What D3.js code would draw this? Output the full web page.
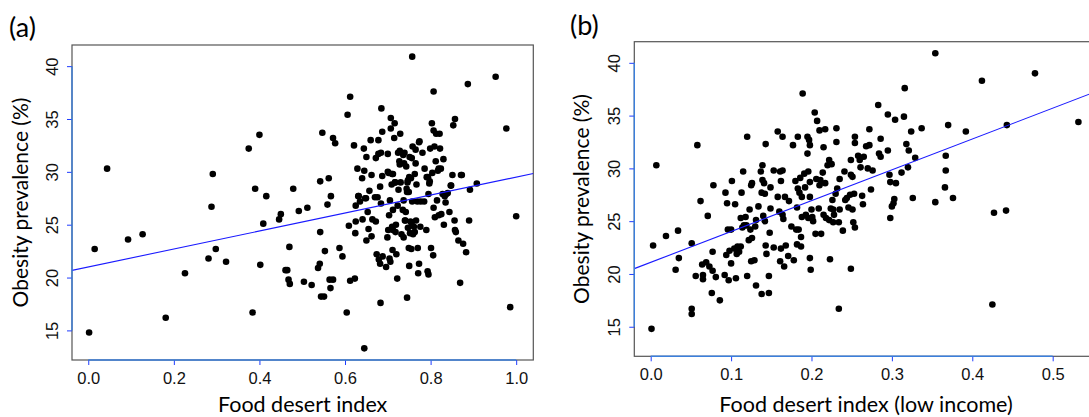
<!DOCTYPE html>
<html>
<head>
<meta charset="utf-8">
<script src="https://cdn.jsdelivr.net/npm/d3@7/dist/d3.min.js"></script>
<style>
body { margin: 0; background: #fff; }
</style>
</head>
<body>
<svg></svg>
<script>
let width = 1089
let height = 417

// [food desert index, obesity prevalence %] per county, panel (a)
let pointsA = [
  [0.002,14.8],[0.015,22.7],[0.044,30.3],[0.093,23.6],[0.127,24.1],[0.181,16.2],[0.226,20.4],[0.281,21.8],[0.288,26.7],[0.291,29.8],
  [0.298,22.7],[0.322,21.5],[0.375,32.2],[0.384,16.7],[0.390,28.4],[0.400,33.5],[0.402,21.2],[0.409,25.1],[0.416,27.7],[0.446,25.5],
  [0.450,26.0],[0.461,20.7],[0.465,20.7],[0.468,19.8],[0.470,22.9],[0.471,19.4],[0.479,28.4],[0.492,26.3],[0.504,19.6],[0.512,26.6],
  [0.522,19.3],[0.537,20.9],[0.541,21.3],[0.542,29.1],[0.542,24.3],[0.544,18.2],[0.547,33.7],[0.551,18.2],[0.553,22.5],[0.559,26.9],
  [0.562,29.4],[0.564,19.8],[0.566,19.0],[0.567,27.7],[0.572,33.2],[0.572,19.8],[0.577,32.7],[0.587,22.8],[0.594,22.0],[0.604,16.7],
  [0.606,35.4],[0.609,24.9],[0.612,37.1],[0.612,19.7],[0.621,32.5],[0.623,19.9],[0.625,25.3],[0.624,24.2],[0.625,26.8],[0.629,30.3],
  [0.632,27.7],[0.635,27.2],[0.640,29.4],[0.644,32.2],[0.645,30.1],[0.641,25.5],[0.645,13.3],[0.650,31.4],[0.649,27.5],[0.650,23.5],
  [0.653,26.2],[0.655,24.6],[0.657,28.2],[0.660,33.0],[0.662,29.7],[0.662,23.9],[0.664,25.5],[0.670,27.6],[0.672,31.3],[0.672,25.3],
  [0.674,22.2],[0.676,27.6],[0.678,33.0],[0.679,21.7],[0.682,28.6],[0.682,21.3],[0.683,17.6],[0.684,27.0],[0.684,31.8],[0.685,36.0],
  [0.687,33.8],[0.687,29.6],[0.688,22.0],[0.696,21.0],[0.699,23.8],[0.700,31.7],[0.700,30.0],[0.701,24.5],[0.703,25.9],[0.704,21.8],
  [0.705,27.3],[0.706,21.5],[0.707,34.1],[0.707,35.1],[0.709,28.8],[0.710,24.8],[0.711,22.6],[0.712,29.8],[0.712,26.4],[0.715,33.2],
  [0.716,34.6],[0.717,29.0],[0.718,24.3],[0.719,25.0],[0.720,22.2],[0.722,19.9],[0.723,26.8],[0.725,28.3],[0.727,31.0],[0.728,32.0],
  [0.729,33.6],[0.730,29.0],[0.732,24.1],[0.735,26.4],[0.737,23.8],[0.737,27.3],[0.738,30.8],[0.739,31.8],[0.741,25.4],[0.742,26.2],
  [0.743,30.5],[0.745,18.1],[0.745,28.1],[0.746,29.0],[0.747,24.7],[0.749,22.8],[0.750,21.1],[0.751,31.4],[0.753,25.3],[0.754,29.4],
  [0.755,22.7],[0.757,27.2],[0.757,40.9],[0.758,32.4],[0.759,24.1],[0.761,24.8],[0.763,29.8],[0.765,30.8],[0.766,25.4],[0.767,28.8],
  [0.769,27.2],[0.770,22.8],[0.771,20.4],[0.773,21.3],[0.774,32.9],[0.776,24.8],[0.777,27.2],[0.781,31.8],[0.785,27.2],[0.786,30.3],
  [0.790,24.5],[0.791,29.5],[0.793,20.6],[0.795,27.9],[0.795,20.3],[0.797,28.9],[0.799,32.2],[0.801,22.8],[0.803,34.6],[0.804,29.9],
  [0.806,22.1],[0.807,26.6],[0.807,37.6],[0.807,33.9],[0.809,32.4],[0.810,25.7],[0.812,31.0],[0.813,33.6],[0.815,27.3],[0.817,30.1],
  [0.819,25.9],[0.821,33.6],[0.822,32.2],[0.824,30.3],[0.825,26.0],[0.828,27.9],[0.830,31.2],[0.831,25.0],[0.833,27.7],[0.835,27.1],
  [0.840,28.0],[0.844,26.2],[0.848,28.7],[0.851,29.7],[0.853,34.4],[0.856,25.4],[0.857,35.0],[0.857,24.5],[0.859,24.3],[0.865,23.5],
  [0.869,19.5],[0.873,29.7],[0.876,23.2],[0.883,22.4],[0.887,38.3],[0.890,25.4],[0.892,28.3],[0.908,28.9],[0.952,39.0],[0.977,34.1],
  [0.986,17.2],[1.000,25.8],
  [0.712,24.5],[0.752,24.2],[0.763,24.3],[0.756,25.0],[0.740,25.4],[0.678,31.7],[0.724,31.8],[0.736,31.6],[0.765,32.1],[0.773,32.8],
  [0.728,30.7],[0.756,31.3],[0.702,29.9],[0.710,29.8],[0.717,29.0],[0.750,29.5],[0.747,29.2],[0.794,29.5],[0.798,29.1],[0.819,30.3],
  [0.871,29.7],[0.847,28.7],[0.631,27.7],[0.647,27.5],[0.744,28.4],[0.749,28.1],[0.837,27.9]
]

// [food desert index (low income), obesity prevalence %], panel (b)
let pointsB = [
  [0.001,14.8],[0.003,22.7],[0.007,30.3],[0.019,23.6],[0.031,20.4],[0.034,24.1],[0.035,21.5],[0.051,22.9],[0.051,16.7],[0.051,16.2],
  [0.056,19.8],[0.058,32.2],[0.062,26.9],[0.064,20.9],[0.065,19.9],[0.065,19.5],[0.069,21.1],[0.071,25.5],[0.073,20.7],[0.076,18.2],
  [0.077,20.3],[0.077,22.1],[0.078,28.4],[0.081,19.7],[0.086,17.5],[0.092,19.9],[0.093,27.7],[0.094,21.8],[0.095,26.7],[0.096,24.2],
  [0.097,19.4],[0.098,22.2],[0.100,21.0],[0.100,24.2],[0.101,28.8],[0.104,22.4],[0.105,26.6],[0.106,19.6],[0.107,21.9],[0.108,22.6],
  [0.110,22.1],[0.112,25.3],[0.112,22.6],[0.113,27.7],[0.114,24.4],[0.115,29.7],[0.116,24.6],[0.118,25.4],[0.119,24.6],[0.120,33.0],
  [0.120,19.8],[0.122,23.2],[0.123,26.1],[0.124,24.2],[0.125,21.2],[0.125,28.4],[0.126,28.6],[0.126,23.4],[0.129,21.3],[0.130,24.5],
  [0.131,18.9],[0.131,25.1],[0.134,26.4],[0.137,29.7],[0.138,18.1],[0.138,27.7],[0.139,30.3],[0.139,28.9],[0.140,25.5],[0.141,28.6],
  [0.142,27.6],[0.142,25.0],[0.143,32.3],[0.143,22.7],[0.144,21.9],[0.147,18.2],[0.147,19.8],[0.148,23.9],[0.149,26.2],[0.149,28.2],
  [0.153,29.8],[0.153,22.5],[0.158,33.5],[0.158,27.3],[0.160,25.9],[0.161,29.7],[0.161,21.2],[0.162,22.4],[0.162,28.8],[0.164,25.6],
  [0.164,29.8],[0.164,33.0],[0.165,25.2],[0.166,20.7],[0.167,27.3],[0.168,22.7],[0.171,21.7],[0.172,26.9],[0.175,24.5],[0.177,32.2],
  [0.178,21.3],[0.180,28.8],[0.181,24.2],[0.182,26.3],[0.182,22.8],[0.183,33.0],[0.183,28.1],[0.184,24.2],[0.185,27.7],[0.186,29.1],
  [0.187,22.6],[0.187,23.5],[0.188,27.3],[0.189,37.1],[0.188,25.4],[0.191,29.5],[0.192,28.2],[0.193,25.6],[0.195,31.4],[0.195,33.0],
  [0.196,25.3],[0.196,29.7],[0.197,32.7],[0.198,32.2],[0.198,21.5],[0.198,28.7],[0.198,27.3],[0.199,20.4],[0.200,26.1],[0.201,25.4],
  [0.202,25.0],[0.204,35.3],[0.205,23.8],[0.206,29.0],[0.207,34.5],[0.209,26.2],[0.210,28.4],[0.210,33.6],[0.211,28.9],[0.212,23.8],
  [0.214,29.6],[0.215,32.0],[0.215,25.6],[0.217,33.7],[0.217,28.6],[0.218,25.3],[0.220,30.3],[0.222,25.1],[0.222,30.8],[0.223,21.4],
  [0.224,26.2],[0.225,30.4],[0.226,27.0],[0.227,24.9],[0.227,26.1],[0.228,25.6],[0.230,27.6],[0.231,32.5],[0.231,33.8],[0.232,28.1],
  [0.234,24.9],[0.234,16.7],[0.235,26.1],[0.235,29.0],[0.239,24.1],[0.241,29.7],[0.242,27.0],[0.244,27.2],[0.246,26.3],[0.248,27.5],
  [0.249,20.5],[0.249,29.4],[0.249,30.8],[0.251,29.2],[0.251,26.1],[0.252,24.9],[0.253,27.6],[0.254,33.0],[0.254,32.4],[0.254,24.4],
  [0.258,31.2],[0.260,30.8],[0.261,30.1],[0.263,27.4],[0.264,26.6],[0.265,31.1],[0.268,32.1],[0.270,30.0],[0.272,33.7],[0.272,32.2],
  [0.274,28.0],[0.276,29.8],[0.283,36.0],[0.284,31.4],[0.286,31.1],[0.286,32.8],[0.295,35.1],[0.295,31.7],[0.297,29.4],[0.298,28.7],
  [0.298,25.3],[0.300,26.4],[0.302,26.7],[0.303,27.1],[0.304,34.6],[0.305,28.6],[0.312,29.6],[0.315,34.9],[0.316,37.6],[0.318,32.3],
  [0.320,30.1],[0.321,31.7],[0.324,33.5],[0.326,27.2],[0.329,31.0],[0.337,33.8],[0.354,40.9],[0.354,26.8],[0.366,28.2],[0.367,29.8],
  [0.367,31.2],[0.370,34.1],[0.376,27.2],[0.392,33.5],[0.412,38.3],[0.425,17.1],[0.427,25.8],[0.442,26.0],[0.443,34.1],[0.478,39.0],
  [0.532,34.4]
]

// fitted lines, [intercept, slope]
let fitA = [21.0, 8.5]
let fitB = [21.1, 29.2]

let xTicksA = [0, 0.2, 0.4, 0.6, 0.8, 1.0]
let xTicksB = [0, 0.1, 0.2, 0.3, 0.4, 0.5]
let yTicks = [15, 20, 25, 30, 35, 40]

let tickFont = "'Liberation Sans', Arial, sans-serif"
let titleFont = "Lato, 'Open Sans', sans-serif"
let axisBlue = '#3b7fdc'
let tickBlue = '#1f3cff'

let svg = d3.select('svg')
    .attr('width', width)
    .attr('height', height)

let panels = [
    {id: 'a', points: pointsA, fit: fitA, xTicks: xTicksA, xDomain: [-0.038, 1.04],
     left: 72, right: 533.3, top: 45, bottom: 360,
     xTitle: 'Food desert index', tag: '(a)', tagX: 9, tagY: 37, yTitleX: 28},
    {id: 'b', points: pointsB, fit: fitB, xTicks: xTicksB, xDomain: [-0.0204, 0.556],
     left: 634.3, right: 1097.7, top: 41.7, bottom: 356.3,
     xTitle: 'Food desert index (low income)', tag: '(b)', tagX: 570, tagY: 35, yTitleX: 589}
]

let drawPanel = (p) => {
    let g = svg.append('g')

    let xScale = d3.scaleLinear()
        .domain(p.xDomain)
        .range([p.left, p.right])
    let yScale = d3.scaleLinear()
        .domain([12.2, 42.0])
        .range([p.bottom, p.top])

    g.append('clipPath')
        .attr('id', 'clip-' + p.id)
        .append('rect')
        .attr('x', p.left)
        .attr('y', p.top)
        .attr('width', p.right - p.left)
        .attr('height', p.bottom - p.top)

    g.append('rect')
        .attr('x', p.left)
        .attr('y', p.top)
        .attr('width', p.right - p.left)
        .attr('height', p.bottom - p.top)
        .attr('fill', 'none')
        .attr('stroke', '#555')
        .attr('stroke-width', 1.2)

    g.append('g')
        .selectAll('circle')
        .data(p.points)
        .enter()
        .append('circle')
        .attr('cx', (d) => xScale(d[0]))
        .attr('cy', (d) => yScale(d[1]))
        .attr('r', 3.3)
        .attr('fill', '#000')

    // regression line runs across the whole box
    let x0 = p.xDomain[0]
    let x1 = p.xDomain[1]
    g.append('line')
        .attr('clip-path', 'url(#clip-' + p.id + ')')
        .attr('x1', xScale(x0))
        .attr('y1', yScale(p.fit[0] + p.fit[1] * x0))
        .attr('x2', xScale(x1))
        .attr('y2', yScale(p.fit[0] + p.fit[1] * x1))
        .attr('stroke', '#1a1aff')
        .attr('stroke-width', 1.1)

    // x axis, R style: axis line only between first and last tick
    let xAxis = d3.axisBottom(xScale)
        .tickValues(p.xTicks)
        .tickFormat(d3.format('.1f'))
        .tickSize(5)
        .tickPadding(7)
    let gx = g.append('g')
        .attr('transform', 'translate(0,' + p.bottom + ')')
        .call(xAxis)
    gx.select('.domain').remove()
    gx.selectAll('.tick line').attr('stroke', tickBlue)
    gx.selectAll('.tick text')
        .attr('fill', '#111')
        .style('font-family', tickFont)
        .style('font-size', '16.5px')
    gx.append('line')
        .attr('x1', xScale(p.xTicks[0]))
        .attr('x2', xScale(p.xTicks[p.xTicks.length - 1]))
        .attr('stroke', axisBlue)
        .attr('stroke-width', 1.4)

    let yAxis = d3.axisLeft(yScale)
        .tickValues(yTicks)
        .tickSize(5)
    let gy = g.append('g')
        .attr('transform', 'translate(' + p.left + ',0)')
        .call(yAxis)
    gy.select('.domain').remove()
    gy.selectAll('.tick line').attr('stroke', tickBlue)
    gy.selectAll('.tick text')
        .attr('transform', 'rotate(-90)')
        .attr('x', 0)
        .attr('y', -14.5)
        .attr('dy', 0)
        .attr('text-anchor', 'middle')
        .attr('fill', '#111')
        .style('font-family', tickFont)
        .style('font-size', '16.5px')
    gy.append('line')
        .attr('y1', yScale(yTicks[0]))
        .attr('y2', yScale(yTicks[yTicks.length - 1]))
        .attr('stroke', axisBlue)
        .attr('stroke-width', 1.4)

    g.append('text')
        .text(p.xTitle)
        .attr('x', (p.left + p.right) / 2)
        .attr('y', 412)
        .attr('text-anchor', 'middle')
        .attr('fill', '#000')
        .style('font-family', titleFont)
        .style('font-size', '21.5px')

    let midY = (p.top + p.bottom) / 2
    g.append('text')
        .text('Obesity prevalence (%)')
        .attr('transform', 'translate(' + p.yTitleX + ',' + midY + ') rotate(-90)')
        .attr('text-anchor', 'middle')
        .attr('fill', '#000')
        .style('font-family', titleFont)
        .style('font-size', '21px')

    g.append('text')
        .text(p.tag)
        .attr('x', p.tagX)
        .attr('y', p.tagY)
        .attr('fill', '#000')
        .style('font-family', titleFont)
        .style('font-size', '27px')
}

panels.forEach(drawPanel)
</script>
</body>
</html>
